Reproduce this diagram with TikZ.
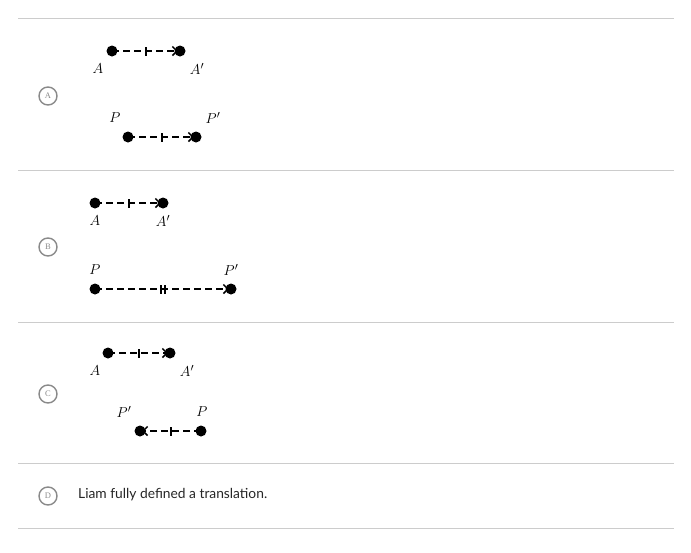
\documentclass[tikz,border=0pt]{standalone}
\usepackage{fontspec}
\setmainfont{Lato}
\newfontfamily\badgefont{Liberation Serif}
\usetikzlibrary{arrows.meta}
\definecolor{rule}{HTML}{CCCCCC}
\definecolor{badge}{HTML}{8A8A8A}
\begin{document}
\begin{tikzpicture}[x=1pt,y=-1pt,
  rulel/.style={draw=rule,line width=0.8pt},
  badgec/.style={circle,draw=badge,line width=1.4pt,minimum size=18pt,inner sep=0pt,text=badge,font=\badgefont\fontsize{8.5}{9}\selectfont},
  dot/.style={circle,fill=black,inner sep=0pt,minimum size=11pt},
  seg/.style={line width=2pt,dash pattern=on 7pt off 4pt,-{Straight Barb[length=4.5pt,width=9pt,line width=1.5pt]}, shorten >=2pt},
  tk/.style={line width=2pt},
  lbl/.style={font=\fontsize{15}{18}\selectfont,inner sep=0pt},
  opt/.style={font=\fontsize{13.8}{16}\selectfont,anchor=west,inner sep=0pt,text=black!85}]
\useasboundingbox (0,0) rectangle (691,552);
% rules
\coordinate (r1l) at (18,18); \coordinate (r1r) at (674,18);
\coordinate (r2l) at (18,170); \coordinate (r2r) at (674,170);
\coordinate (r3l) at (18,322); \coordinate (r3r) at (674,322);
\coordinate (r4l) at (18,463); \coordinate (r4r) at (674,463);
\coordinate (r5l) at (18,528); \coordinate (r5r) at (674,528);
\draw[rulel] (r1l) -- (r1r);
\draw[rulel] (r2l) -- (r2r);
\draw[rulel] (r3l) -- (r3r);
\draw[rulel] (r4l) -- (r4r);
\draw[rulel] (r5l) -- (r5r);
% badges
\node[badgec] (bA) at (48,96) {A};
\node[badgec] (bB) at (48,247) {B};
\node[badgec] (bC) at (48,394) {C};
\node[badgec] (bD) at (48,496) {D};
% Option A
\node[dot] (aA) at (112,51) {};
\node[dot] (aA2) at (180,51) {};
\draw[seg] (aA.center) -- (aA2.center) coordinate[pos=0.5] (aAm);
\draw[tk] ([yshift=-4.5pt]aAm) -- ([yshift=4.5pt]aAm);
\node[lbl] (laA) at (98,69) {$A$};
\node[lbl] (laA2) at (197,69) {$A'$};
\node[lbl] (laP) at (115,118) {$P$};
\node[lbl] (laP2) at (213,118) {$P'$};
\node[dot] (aP) at (128,137) {};
\node[dot] (aP2) at (196,137) {};
\draw[seg] (aP.center) -- (aP2.center) coordinate[pos=0.5] (aPm);
\draw[tk] ([yshift=-4.5pt]aPm) -- ([yshift=4.5pt]aPm);
% Option B
\node[dot] (bA1) at (95,203) {};
\node[dot] (bA2) at (163,203) {};
\draw[seg] (bA1.center) -- (bA2.center) coordinate[pos=0.5] (bAm);
\draw[tk] ([yshift=-4.5pt]bAm) -- ([yshift=4.5pt]bAm);
\node[lbl] (lbA) at (95,221) {$A$};
\node[lbl] (lbA2) at (163,221) {$A'$};
\node[lbl] (lbP) at (95,270) {$P$};
\node[lbl] (lbP2) at (231,270) {$P'$};
\node[dot] (bP) at (95,289) {};
\node[dot] (bP2) at (231,289) {};
\draw[seg] (bP.center) -- (bP2.center) coordinate[pos=0.5] (bPm);
\draw[tk] ([xshift=-2pt,yshift=-4.5pt]bPm) -- ([xshift=-2pt,yshift=4.5pt]bPm);
\draw[tk] ([xshift=2pt,yshift=-4.5pt]bPm) -- ([xshift=2pt,yshift=4.5pt]bPm);
% Option C
\node[dot] (cA) at (108,353) {};
\node[dot] (cA2) at (170,353) {};
\draw[seg] (cA.center) -- (cA2.center) coordinate[pos=0.5] (cAm);
\draw[tk] ([yshift=-4.5pt]cAm) -- ([yshift=4.5pt]cAm);
\node[lbl] (lcA) at (95,371) {$A$};
\node[lbl] (lcA2) at (187,371) {$A'$};
\node[lbl] (lcP2) at (124,412) {$P'$};
\node[lbl] (lcP) at (202,412) {$P$};
\node[dot] (cP2) at (140,431) {};
\node[dot] (cP) at (201,431) {};
\draw[seg] (cP.center) -- (cP2.center) coordinate[pos=0.5] (cPm);
\draw[tk] ([yshift=-4.5pt]cPm) -- ([yshift=4.5pt]cPm);
% Option D
\node[opt] (tD) at (78,495) {Liam fully defined a translation.};
\end{tikzpicture}
\end{document}
